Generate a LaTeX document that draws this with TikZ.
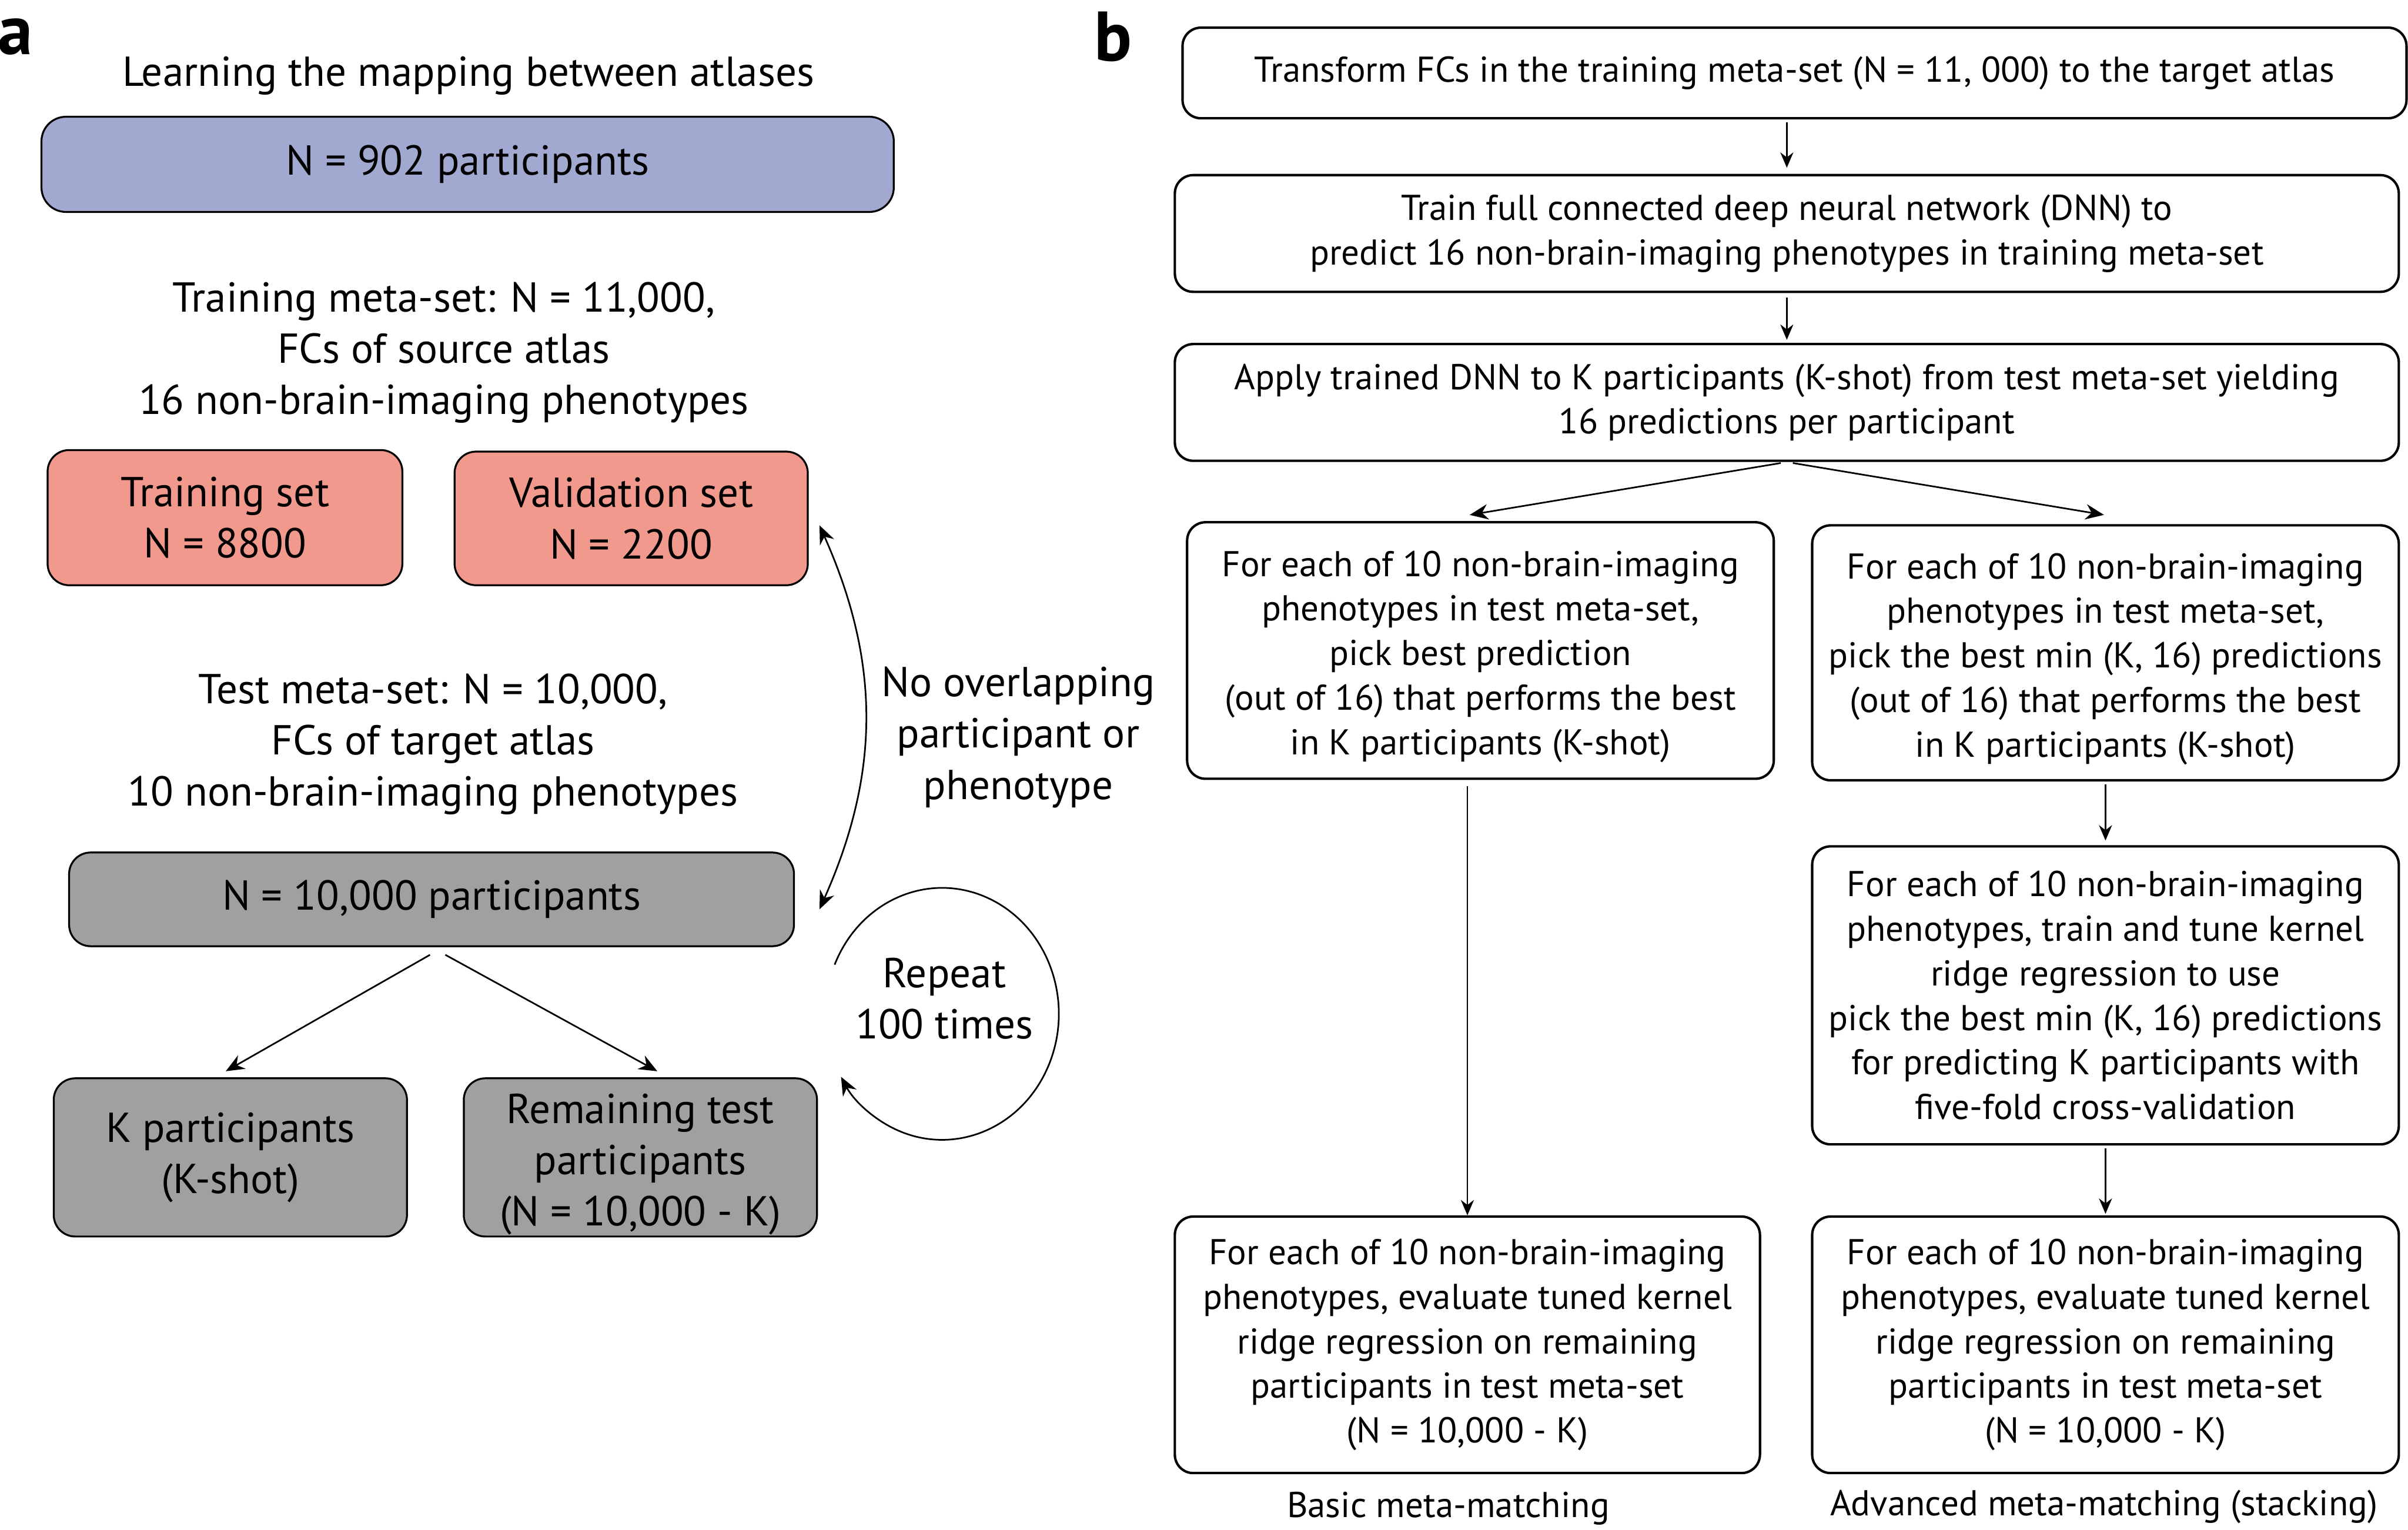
\documentclass[tikz,border=0pt]{standalone}
\usepackage{fontspec}
\setmainfont{PT Sans}
\usepackage{xcolor}
\usetikzlibrary{arrows.meta,positioning}
\definecolor{myblue}{RGB}{162,169,209}
\definecolor{mysalmon}{RGB}{240,153,140}
\definecolor{mygray}{RGB}{160,160,160}

\begin{document}
\begin{tikzpicture}
\tikzstyle{boxa}=[rectangle,draw,rounded corners=0.28cm,line width=0.7pt,align=center,inner sep=0pt,font=\fontsize{15.5}{19}\selectfont];
\tikzstyle{boxb}=[rectangle,draw,rounded corners=0.24cm,line width=0.9pt,align=center,inner sep=0pt,font=\fontsize{13.3}{16.5}\selectfont];
\tikzstyle{texta}=[align=center,font=\fontsize{15.5}{19}\selectfont];
\tikzstyle{textb}=[align=center,font=\fontsize{13.3}{16.5}\selectfont];
\tikzstyle{myarrows}=[-{Stealth[length=0.24cm,width=0.2cm]},line width=0.6pt];
\tikzstyle{thinarrows}=[-{Stealth[length=0.2cm,width=0.17cm]},line width=0.5pt];
\useasboundingbox (0,0) rectangle (31.36,-19.92);

% panel a
\node[font=\fontsize{26}{26}\selectfont\bfseries] (la) at (0.2,-0.48) {a};
\node[texta] (a1) at (6.1,-0.99) {Learning the mapping between atlases};
\node[boxa,fill=myblue,rounded corners=0.32cm,minimum width=11.1cm,minimum height=1.24cm] (a2) at (6.09,-2.14) {N = 902 participants};
\node[texta] (a3) at (5.78,-4.59) {Training meta-set: N = 11,000,\\FCs of source atlas\\16 non-brain-imaging phenotypes};
\node[boxa,fill=mysalmon,minimum width=4.62cm,minimum height=1.76cm] (a4) at (2.93,-6.74) {Training set\\N = 8800};
\node[boxa,fill=mysalmon,minimum width=4.6cm,minimum height=1.74cm] (a5) at (8.22,-6.75) {Validation set\\N = 2200};
\node[texta] (a6) at (5.64,-9.69) {Test meta-set: N = 10,000,\\FCs of target atlas\\10 non-brain-imaging phenotypes};
\node[boxa,fill=mygray,minimum width=9.44cm,minimum height=1.22cm] (a7) at (5.62,-11.71) {N = 10,000 participants};
\node[boxa,fill=mygray,minimum width=4.6cm,minimum height=2.06cm] (a8) at (3.0,-15.07) {K participants\\(K-shot)};
\node[boxa,fill=mygray,minimum width=4.6cm,minimum height=2.06cm] (a9) at (8.34,-15.07) {\rule{0pt}{16pt}Remaining test\\participants\\(N = 10,000 - K)};
\node[texta] (a10) at (13.26,-9.6) {No overlapping\\participant or\\phenotype};
\node[texta] (a11) at (12.3,-13.0) {Repeat\\100 times};
\coordinate (loopstart) at (10.87,-12.56);

\draw [myarrows] ([xshift=-0.02cm,yshift=-0.1cm]a7.south) -- ([xshift=-0.06cm,yshift=0.08cm]a8.north);
\draw [myarrows] ([xshift=0.18cm,yshift=-0.1cm]a7.south) -- ([xshift=0.22cm,yshift=0.08cm]a9.north);
\draw [myarrows,{Stealth[length=0.24cm,width=0.2cm]}-{Stealth[length=0.24cm,width=0.2cm]}] ([xshift=0.14cm,yshift=-0.09cm]a5.east) to[bend left=24] ([xshift=0.32cm,yshift=-0.13cm]a7.east);
\draw [myarrows] (loopstart) arc[start angle=157,end angle=-150,x radius=1.52cm,y radius=1.64cm];

% panel b
\node[font=\fontsize{26}{26}\selectfont\bfseries] (lb) at (14.5,-0.48) {b};
\node[boxb,minimum width=15.94cm,minimum height=1.18cm] (b1) at (23.37,-0.95) {Transform FCs in the training meta-set (N = 11, 000) to the target atlas};
\node[boxb,minimum width=15.94cm,minimum height=1.52cm] (b2) at (23.27,-3.04) {Train full connected deep neural network (DNN) to\\predict 16 non-brain-imaging phenotypes in training meta-set};
\node[boxb,minimum width=15.94cm,minimum height=1.52cm] (b3) at (23.27,-5.24) {Apply trained DNN to K participants (K-shot) from test meta-set yielding\\16 predictions per participant};
\node[boxb,minimum width=7.64cm,minimum height=3.34cm] (b4) at (19.28,-8.47) {\rule{0pt}{14pt}For each of 10 non-brain-imaging\\phenotypes in test meta-set,\\pick best prediction\\(out of 16) that performs the best\\in K participants (K-shot)};
\node[boxb,minimum width=7.64cm,minimum height=3.32cm] (b5) at (27.42,-8.5) {\rule{0pt}{14pt}For each of 10 non-brain-imaging\\phenotypes in test meta-set,\\pick the best min (K, 16) predictions\\(out of 16) that performs the best\\in K participants (K-shot)};
\node[boxb,minimum width=7.64cm,minimum height=3.88cm] (b6) at (27.42,-12.96) {For each of 10 non-brain-imaging\\phenotypes, train and tune kernel\\ridge regression to use\\pick the best min (K, 16) predictions\\for predicting K participants with\\five-fold cross-validation};
\node[boxb,minimum width=7.62cm,minimum height=3.34cm] (b7) at (19.11,-17.51) {For each of 10 non-brain-imaging\\phenotypes, evaluate tuned kernel\\ridge regression on remaining\\participants in test meta-set\\(N = 10,000 - K)};
\node[boxb,minimum width=7.64cm,minimum height=3.34cm] (b8) at (27.42,-17.51) {For each of 10 non-brain-imaging\\phenotypes, evaluate tuned kernel\\ridge regression on remaining\\participants in test meta-set\\(N = 10,000 - K)};
\node[textb] (b9) at (18.86,-19.64) {Basic meta-matching};
\node[textb] (b10) at (27.4,-19.62) {Advanced meta-matching (stacking)};

\draw [thinarrows,shorten <=0.04cm,shorten >=0.08cm] (b2.north |- b1.south) -- (b2.north);
\draw [thinarrows,shorten <=0.06cm,shorten >=0.04cm] (b2.south) -- (b3.north);
\draw [myarrows,shorten <=0.08cm] (b3.south) -- ([xshift=-0.14cm,yshift=0.08cm]b4.north);
\draw [myarrows,shorten <=0.08cm] (b3.south) -- ([xshift=-0.02cm,yshift=0.12cm]b5.north);
\draw [thinarrows,shorten <=0.08cm] (b7.north |- b4.south) -- (b7.north);
\draw [thinarrows,shorten <=0.04cm,shorten >=0.06cm] (b5.south) -- (b6.north);
\draw [thinarrows,shorten <=0.04cm,shorten >=0.02cm] (b6.south) -- (b8.north);
\end{tikzpicture}
\end{document}
